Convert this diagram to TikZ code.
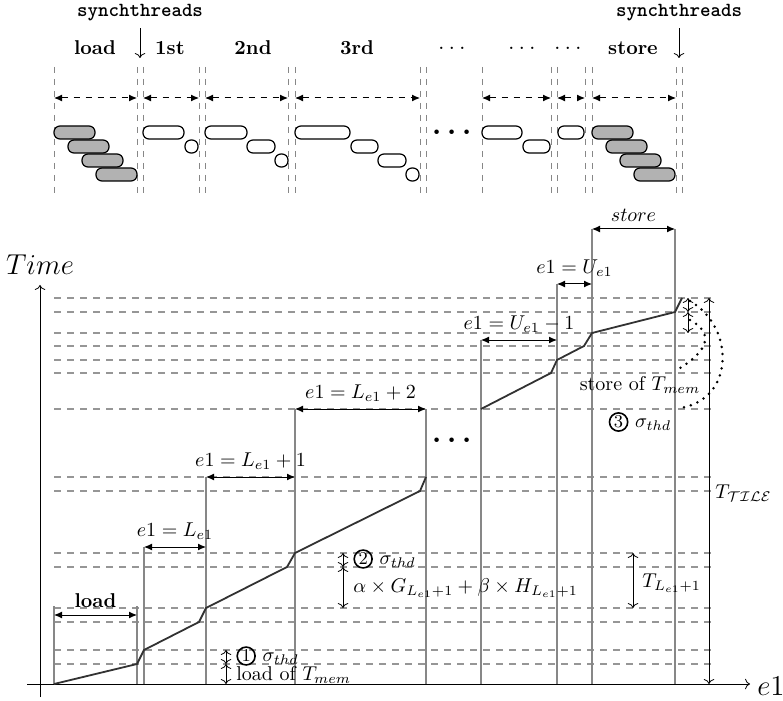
\documentclass[tikz,border=0pt]{standalone}
\usepackage{amsmath}
\usetikzlibrary{arrows.meta,calc}
\definecolor{TlGuide}{RGB}{135,135,135}
\definecolor{TlGrid}{RGB}{150,150,150}
\definecolor{TlCurve}{RGB}{50,50,50}
\definecolor{TlBusy}{RGB}{178,178,178}
\tikzset{
  tl pill/.style={draw=black, line width=0.6pt, rounded corners=3pt, fill=white},
  tl busy/.style={tl pill, fill=TlBusy},
  tl sep/.style={draw=TlGuide, dashed, line width=0.5pt},
  tl span/.style={{Latex[length=4pt,width=3.5pt]}-{Latex[length=4pt,width=3.5pt]}, dashed, line width=0.5pt},
  tl phase/.style={font=\bfseries},
  tl sync/.style={font=\ttfamily\bfseries},
  tl grid/.style={draw=TlGrid, dashed, dash pattern=on 3.5pt off 3pt, line width=0.6pt},
  tl guide/.style={draw=TlGuide, line width=0.6pt},
  tl curve/.style={draw=TlCurve, line width=0.9pt},
  tl width/.style={{Latex[length=4pt,width=3.5pt]}-{Latex[length=4pt,width=3.5pt]}, line width=0.5pt},
  tl tick/.style={<->, line width=0.4pt},
  tl hint/.style={line width=1.4pt, line cap=round, dash pattern=on 0pt off 3.6pt},
  tl note/.style={anchor=west, inner sep=1pt}
}
\newcommand{\circnum}[1]{\tikz[baseline=(cn.base)]\node[circle,draw,line width=0.8pt,inner sep=0.5pt,font=\small](cn){#1};}

\begin{document}
\begin{tikzpicture}[x=0.5pt,y=-0.5pt]
\useasboundingbox (0,0) rectangle (783,701);

\foreach \x in {54,137,143,199,205,288,295,420,426,482,551,557,585,592,676,682}
  \draw[tl sep] (\x,67) -- (\x,198);
\foreach \a/\b in {54/137,143/199,205/288,295/420,482/551,557/585,592/676}
  \draw[tl span] (\a,98) -- (\b,98);

\node[tl sync] (sync1) at (140,13) {synchthreads};
\node[tl sync] (sync2) at (679,13) {synchthreads};
\draw[->] (sync1.south) -- (sync1.south |- 0,58);
\draw[->] (sync2.south) -- (sync2.south |- 0,58);
\node[tl phase] (ph0) at (95,48) {load};
\node[tl phase] (ph1) at (170,48) {1st};
\node[tl phase] (ph2) at (253,48) {2nd};
\node[tl phase] (ph3) at (357,48) {3rd};
\node[tl phase] (ph4) at (452,48) {\large$\ldots$};
\node[tl phase] (ph5) at (522,48) {\large$\ldots$};
\node[tl phase] (ph6) at (568,48) {\large$\ldots$};
\node[tl phase] (ph7) at (633,48) {store};

\foreach \x in {0,1,2,3} {
  \draw[tl busy] (54+14*\x,126+14*\x) rectangle ++(41,13);
  \draw[tl busy] (592+14*\x,126+14*\x) rectangle ++(41,13);
}
\foreach \xa/\ya/\xb/\yb in {143/126/184/139, 185/140/198/153,
  205/126/247/139, 247/140/275/153, 275/154/288/167,
  295/126/350/139, 351/140/378/153, 378/154/406/167, 406/168/419/181,
  482/126/522/139, 523/140/550/153, 558/126/584/139}
  \draw[tl pill] (\xa,\ya) rectangle (\xb,\yb);
\node (gap1) at (455,133) {\Large$\boldsymbol{\cdots}$};

\foreach \y in {298,312,333,346,360,373,409,477,491,553,567,608,622,650,664}
  \draw[tl grid] (54,\y) -- (715,\y);
\foreach \x/\t in {54/606,137/606,144/547,206/477,295/409,426/409,481/340,557/284,592/229,675/229}
  \draw[tl guide] (\x,\t) -- (\x,684);

\draw[->] (40,697) -- (40,285);
\draw[->] (27,684) -- (750,684);
\node (time) at (40,265) {\Large$Time$};
\node[anchor=west, inner sep=1pt] (eaxis) at (755,686) {\Large$e1$};

\draw[tl curve] (54,684) -- (137,664) -- (144,650) -- (199,622) -- (206,608)
  -- (287,567) -- (295,553) -- (420,491) -- (426,477);
\draw[tl curve] (481,409) -- (551,373) -- (557,360) -- (584,346) -- (592,333)
  -- (675,312) -- (682,298);
\node (gap2) at (455,441) {\Large$\boldsymbol{\cdots}$};

\draw[tl width] (54,615) -- node[above] {\textbf{load}} (137,615);
\draw[tl width] (144,547) -- node[above] {$e1 = L_{e1}$} (206,547);
\draw[tl width] (206,477) -- node[above] {$e1 = L_{e1} + 1$} (295,477);
\draw[tl width] (295,409) -- node[above] {$e1 = L_{e1} + 2$} (426,409);
\draw[tl width] (481,340) -- node[above] {$e1 = U_{e1} - 1$} (557,340);
\draw[tl width] (557,284) -- node[above] {$e1 = U_{e1}$} (592,284);
\draw[tl width] (592,229) -- node[above] {$store$} (675,229);

\draw[tl tick] (226,650) -- (226,664);
\draw[tl tick] (226,664) -- (226,684);
\node[tl note] (sig1) at (234,656) {\circnum{1} $\sigma_{thd}$};
\node[tl note] (ldm) at (234,675) {load of $T_{mem}$};

\draw[tl tick] (343,553) -- (343,567);
\draw[tl tick] (343,567) -- (343,608);
\node[tl note] (sig2) at (351,559) {\circnum{2} $\sigma_{thd}$};
\node[tl note] (cost) at (351,588) {$\alpha \times G_{L_{e1}+1} + \beta \times H_{L_{e1}+1}$};

\draw[tl tick] (633,553) -- (633,608);
\node[tl note] (tl1) at (640,583) {$T_{L_{e1}+1}$};

\draw[tl tick] (709,298) -- (709,684);
\node[tl note] (ttile) at (713,493) {$T_{\mathcal{TILE}}$};

\draw[tl tick] (688,298) -- (688,312);
\draw[tl tick] (688,312) -- (688,333);
\node (stm) at (640,385) {store of $T_{mem}$};
\node (sig3) at (640,422) {\circnum{3} $\sigma_{thd}$};
\draw[tl hint] (690,301) .. controls (736,328) and (734,400) .. (680,408);
\draw[tl hint] (690,320) .. controls (716,334) and (706,352) .. (680,368);
\end{tikzpicture}
\end{document}
